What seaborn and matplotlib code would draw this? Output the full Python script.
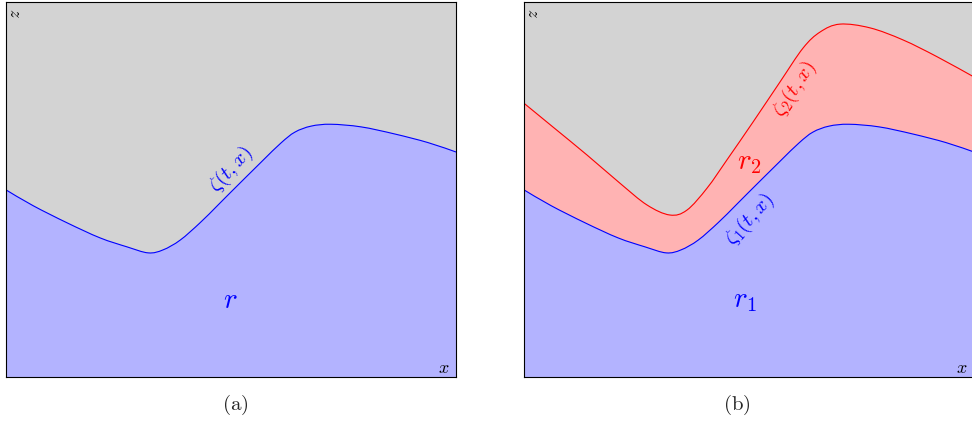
import numpy as np
import matplotlib
matplotlib.use("Agg")
import matplotlib.pyplot as plt
from matplotlib.path import Path
from matplotlib.patches import PathPatch
import seaborn as sns

sns.set_theme(style="white")
plt.rcParams["mathtext.fontset"] = "cm"
plt.rcParams["font.family"] = ["DejaVu Sans"]

# Lower interface zeta(t, x) (same profile in both panels)
zeta_x = [0.0, 0.060, 0.136, 0.209, 0.269, 0.316, 0.349, 0.387, 0.431, 0.469,
          0.498, 0.567, 0.611, 0.642, 0.678, 0.722, 0.789, 0.864, 0.938, 1.0]
zeta_y = [0.499, 0.457, 0.411, 0.371, 0.347, 0.331, 0.339, 0.365, 0.411, 0.456,
          0.491, 0.573, 0.624, 0.653, 0.669, 0.674, 0.667, 0.648, 0.625, 0.600]

# Upper interface zeta_2(t, x)
zeta2_x = [0.0, 0.064, 0.140, 0.213, 0.273, 0.324, 0.362, 0.407, 0.451, 0.509,
           0.569, 0.620, 0.658, 0.702, 0.769, 0.842, 0.918, 1.0]
zeta2_y = [0.730, 0.667, 0.592, 0.517, 0.459, 0.432, 0.445, 0.504, 0.579, 0.680,
           0.787, 0.877, 0.920, 0.941, 0.931, 0.899, 0.854, 0.800]

captions = ["(a)", "(b)"]

GRAY = "#d3d3d3"
BLUE_FILL = "#b3b3ff"
RED_FILL = "#ffb3b3"


def smooth_path(xs, ys, close_to_bottom=False):
    """Smooth (Catmull-Rom style) cubic Bezier path through the given points."""
    p = np.column_stack([xs, ys]).astype(float)
    n = len(p)
    verts = [p[0]]
    codes = [Path.MOVETO]
    for i in range(n - 1):
        p0 = p[i - 1] if i > 0 else p[i]
        p1, p2 = p[i], p[i + 1]
        p3 = p[i + 2] if i + 2 < n else p[i + 1]
        c1 = p1 + (p2 - p0) / 6.0
        c2 = p2 - (p3 - p1) / 6.0
        verts += [c1, c2, p2]
        codes += [Path.CURVE4] * 3
    if close_to_bottom:
        verts += [(p[-1, 0], 0.0), (p[0, 0], 0.0), p[0]]
        codes += [Path.LINETO, Path.LINETO, Path.CLOSEPOLY]
    return Path(verts, codes)


def draw_layer(ax, xs, ys, fill):
    ax.add_patch(PathPatch(smooth_path(xs, ys, True), facecolor=fill,
                           edgecolor="none", zorder=1))


def draw_interface(ax, xs, ys, edge):
    ax.add_patch(PathPatch(smooth_path(xs, ys), facecolor="none",
                           edgecolor=edge, linewidth=0.8, zorder=3))


fig = plt.figure(figsize=(9.72, 4.21), dpi=100)
ax_a = fig.add_axes([6 / 972, 44 / 421, 450 / 972, 375 / 421])
ax_b = fig.add_axes([524 / 972, 44 / 421, 450 / 972, 375 / 421])

for ax in (ax_a, ax_b):
    ax.set_facecolor(GRAY)
    ax.set_xlim(0, 1)
    ax.set_ylim(0, 1)
    ax.set_xticks([])
    ax.set_yticks([])
    for s in ax.spines.values():
        s.set_color("black")
        s.set_linewidth(0.8)
        s.set_zorder(5)
    ax.text(0.019, 0.972, r"$z$", rotation=-90, fontsize=12, color="black",
            ha="center", va="center", transform=ax.transAxes)
    ax.text(0.972, 0.024, r"$x$", fontsize=13, color="black",
            ha="center", va="center", transform=ax.transAxes)

# Panel (a): single layer
draw_layer(ax_a, zeta_x, zeta_y, BLUE_FILL)
draw_interface(ax_a, zeta_x, zeta_y, "blue")
ax_a.text(0.5, 0.552, r"$\zeta(t,x)$", rotation=48, fontsize=15, color="blue",
          ha="center", va="center")
ax_a.text(0.498, 0.205, r"$r$", fontsize=21, color="blue",
          ha="center", va="center")

# Panel (b): two layers
draw_layer(ax_b, zeta2_x, zeta2_y, RED_FILL)
draw_layer(ax_b, zeta_x, zeta_y, BLUE_FILL)
draw_interface(ax_b, zeta2_x, zeta2_y, "red")
draw_interface(ax_b, zeta_x, zeta_y, "blue")
ax_b.text(0.502, 0.419, r"$\zeta_1(t,x)$", rotation=48, fontsize=15,
          color="blue", ha="center", va="center")
ax_b.text(0.602, 0.768, r"$\zeta_2(t,x)$", rotation=57, fontsize=15,
          color="red", ha="center", va="center")
ax_b.text(0.5, 0.573, r"$r_2$", fontsize=21, color="red",
          ha="center", va="center")
ax_b.text(0.49, 0.205, r"$r_1$", fontsize=21, color="blue",
          ha="center", va="center")

for cx, cap in zip([235, 737], captions):
    fig.text(cx / 972, 1 - 405 / 421, r"$\mathrm{" + cap + "}$", fontsize=15,
             ha="center", va="center")

fig.savefig("out.png", dpi=100)
